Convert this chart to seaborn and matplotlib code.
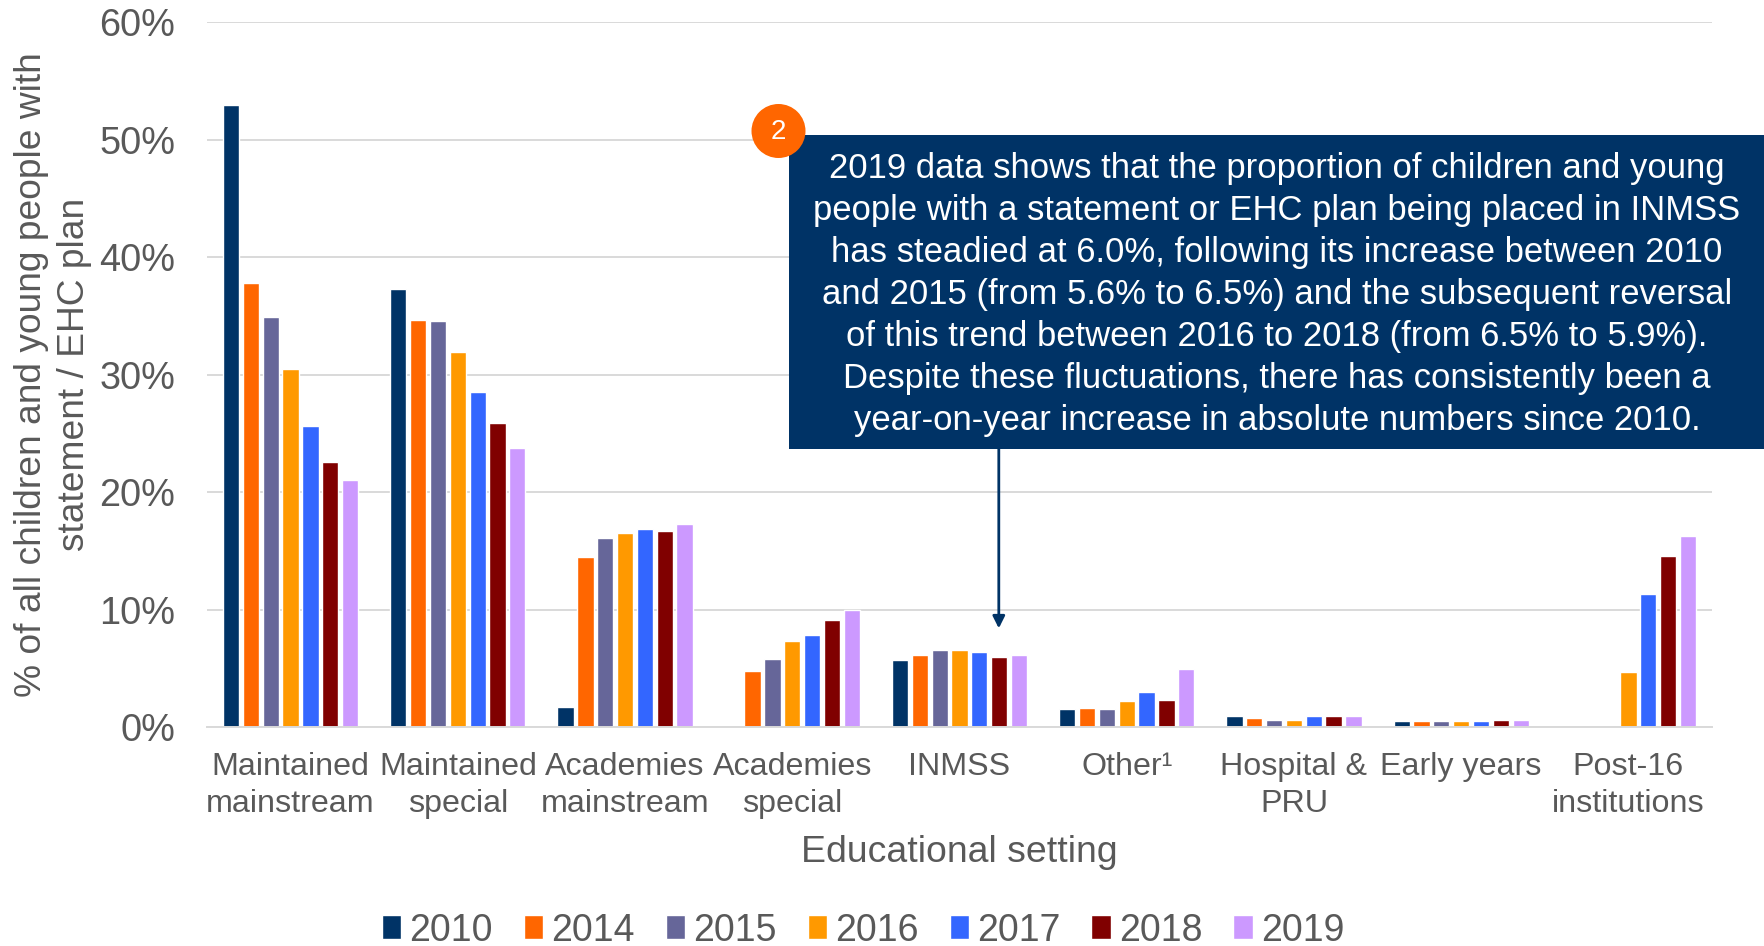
import numpy as np
import pandas as pd
import matplotlib
matplotlib.use("Agg")
import matplotlib.pyplot as plt
from matplotlib.patches import Rectangle, Ellipse
import seaborn as sns

settings = ["Maintained\nmainstream", "Maintained\nspecial", "Academies\nmainstream",
            "Academies\nspecial", "INMSS", "Other¹", "Hospital &\nPRU", "Early years",
            "Post-16\ninstitutions"]
years = ["2010", "2014", "2015", "2016", "2017", "2018", "2019"]
y2010 = [53.0, 37.3, 1.7, np.nan, 5.7, 1.5, 0.9, 0.5, np.nan]
y2014 = [37.8, 34.7, 14.5, 4.8, 6.1, 1.6, 0.8, 0.5, np.nan]
y2015 = [34.9, 34.6, 16.1, 5.8, 6.6, 1.5, 0.6, 0.5, np.nan]
y2016 = [30.5, 31.9, 16.5, 7.3, 6.6, 2.2, 0.6, 0.5, 4.7]
y2017 = [25.6, 28.5, 16.9, 7.8, 6.4, 3.0, 0.9, 0.5, 11.3]
y2018 = [22.6, 25.9, 16.7, 9.1, 6.0, 2.3, 0.9, 0.6, 14.6]
y2019 = [21.0, 23.8, 17.3, 10.0, 6.1, 4.9, 0.9, 0.6, 16.3]
colors = ["#003366", "#FF6600", "#666699", "#FF9900", "#3366FF", "#800000", "#CC99FF"]
callout = ("2019 data shows that the proportion of children and young\n"
           "people with a statement or EHC plan being placed in INMSS\n"
           "has steadied at 6.0%, following its increase between 2010\n"
           "and 2015 (from 5.6% to 6.5%) and the subsequent reversal\n"
           "of this trend between 2016 to 2018 (from 6.5% to 5.9%).\n"
           "Despite these fluctuations, there has consistently been a\n"
           "year-on-year increase in absolute numbers since 2010.")

rows = []
for yr, vals in zip(years, [y2010, y2014, y2015, y2016, y2017, y2018, y2019]):
    for s, v in zip(settings, vals):
        rows.append({"setting": s, "year": yr, "value": v})
df = pd.DataFrame(rows)

sns.set_theme(style="white")
plt.rcParams["font.family"] = ["Liberation Sans", "DejaVu Sans"]
W, H = 1764, 946
grey = "#595959"
fig = plt.figure(figsize=(W / 100, H / 100), dpi=100)
ax = fig.add_axes([207 / W, 1 - 727 / H, (1712 - 207) / W, (727 - 22.5) / H])

sns.barplot(data=df, x="setting", y="value", hue="year", palette=colors, order=settings,
            hue_order=years, width=0.83, gap=0.18, saturation=1, errorbar=None, ax=ax, zorder=2)
ax.set_xlim(-0.5, 8.5)
ax.set_ylim(0, 60)
ax.set_yticks(range(0, 61, 10))
ax.set_yticklabels([f"{v}%" for v in range(0, 61, 10)], fontsize=27.3, color=grey)
ax.grid(axis="y", color="#D9D9D9", lw=1.4, zorder=0)
ax.set_axisbelow(True)
for s in ["top", "left", "right"]:
    ax.spines[s].set_visible(False)
ax.spines["bottom"].set_color("#D9D9D9")
ax.spines["bottom"].set_linewidth(1.4)
ax.set_xticks(np.arange(-0.5, 9, 1), minor=True)
ax.tick_params(axis="x", which="minor", length=8, width=1.4, color="#D9D9D9")
ax.tick_params(axis="x", which="major", length=0, pad=18, labelsize=23.2, labelcolor=grey)
for lab in ax.get_xticklabels():
    lab.set_linespacing(1.32)
ax.tick_params(axis="y", length=0, pad=23)
ax.set_xlabel("Educational setting", fontsize=26.9, color=grey, labelpad=11.5)
ax.set_ylabel("% of all children and young people with\nstatement / EHC plan", fontsize=26.7,
              color=grey, linespacing=1.27)
ax.yaxis.set_label_coords(-0.0767, 0.5)

handles, labels = ax.get_legend_handles_labels()
ax.legend(handles, labels, loc="center", bbox_to_anchor=(863 / W, 1 - 930.5 / H),
          bbox_transform=fig.transFigure, ncol=7, frameon=False, fontsize=27.0,
          labelcolor=grey, handlelength=0.52, handleheight=0.6, handletextpad=0.22,
          columnspacing=0.82, borderpad=0)

# callout box, badge and pointer
fig.add_artist(Rectangle((789 / W, 1 - 449 / H), (1764 - 789) / W, (449 - 135) / H,
                         transform=fig.transFigure, facecolor="#003366", edgecolor="none", zorder=5))
fig.text(1277 / W, 1 - 294.5 / H, callout, color="white", fontsize=24.95,
         ha="center", va="center", linespacing=1.34, zorder=6)
ax.annotate("", xy=(4.235, 8.4), xycoords="data", xytext=(4.235, 29.6), textcoords="data",
            arrowprops=dict(arrowstyle="-|>,head_width=0.3,head_length=0.6", color="#003366",
                            lw=2, shrinkA=0, shrinkB=0), zorder=4)
fig.add_artist(Ellipse((778.5 / W, 1 - 131 / H), 54 / W, 54 / H, transform=fig.transFigure,
                       facecolor="#FF6600", edgecolor="none", zorder=7))
fig.text(778.5 / W, 1 - 132 / H, "2", color="white", fontsize=20, ha="center", va="center", zorder=8)

fig.savefig("out.png", dpi=100)
